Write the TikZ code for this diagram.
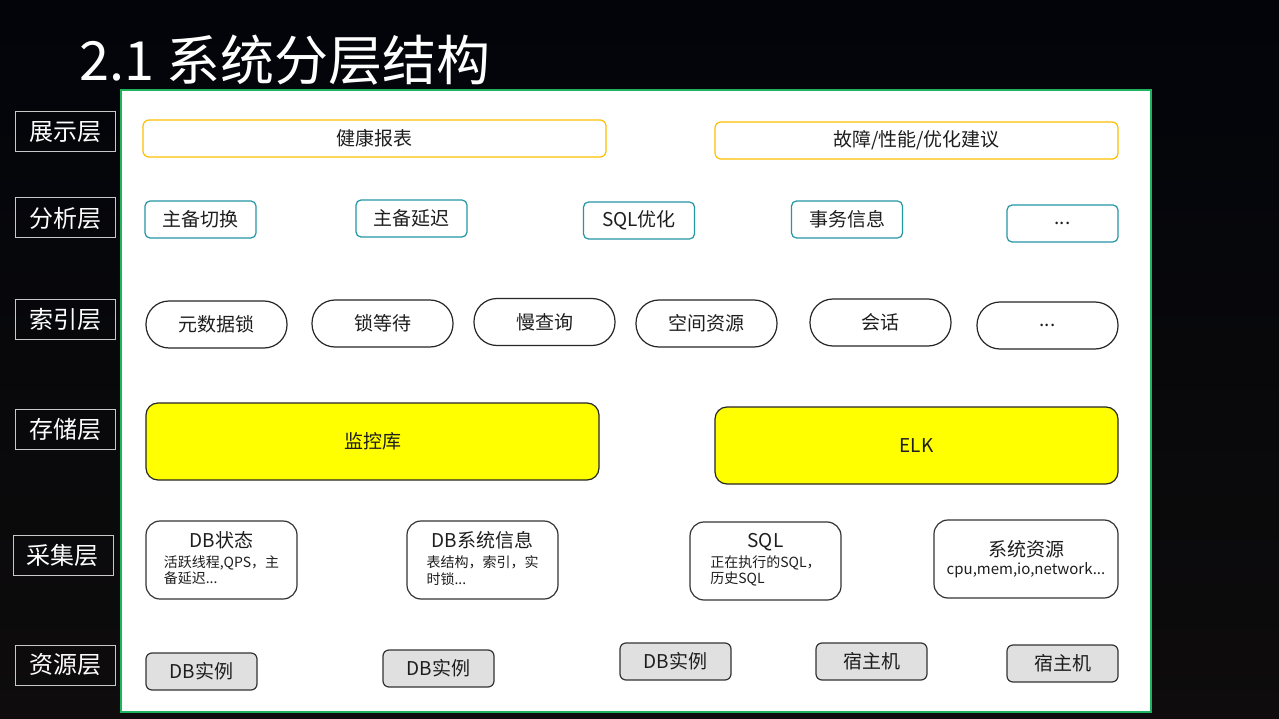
\documentclass[tikz,border=0pt]{standalone}
\usepackage{fontspec}
\setmainfont{Noto Sans CJK SC}
\usepackage{tikz}
\usetikzlibrary{positioning,calc}

\definecolor{bgtop}{RGB}{2,4,10}
\definecolor{bgmid}{RGB}{8,16,34}
\definecolor{bgbot}{RGB}{14,12,12}
\definecolor{panelgreen}{RGB}{30,180,95}
\definecolor{labelgray}{RGB}{200,200,200}
\definecolor{showyellow}{RGB}{255,192,0}
\definecolor{anateal}{RGB}{35,150,165}
\definecolor{storeyellow}{RGB}{255,255,0}
\definecolor{resgray}{RGB}{224,224,224}
\definecolor{boxtext}{RGB}{30,30,30}

\newcommand{\detail}[1]{{\fontsize{14}{16}\selectfont\begin{tabular}[t]{@{}l@{}}#1\end{tabular}}}

\tikzset{
  layerlabel/.style={draw=labelgray, line width=1pt, text=white, minimum width=100pt,
    minimum height=40pt, inner sep=0pt, font=\fontsize{24}{26}\selectfont},
  showbox/.style={draw=showyellow, line width=1.2pt, rounded corners=6pt, minimum height=37pt,
    inner sep=0pt, text=boxtext, font=\fontsize{19}{22}\selectfont},
  anabox/.style={draw=anateal, line width=1.2pt, rounded corners=5pt, minimum width=111pt,
    minimum height=37pt, inner sep=0pt, text=boxtext, font=\fontsize{19}{22}\selectfont},
  idxpill/.style={draw=black!85, line width=1.2pt, rounded corners=23pt, minimum width=141pt,
    minimum height=47pt, inner sep=0pt, text=boxtext, font=\fontsize{19}{22}\selectfont},
  storebox/.style={draw=black!85, fill=storeyellow, line width=1.2pt, rounded corners=12pt,
    minimum height=77pt, inner sep=0pt, text=boxtext, font=\fontsize{19}{22}\selectfont},
  collectbox/.style={draw=black!80, line width=1.2pt, rounded corners=14pt, minimum width=151pt,
    minimum height=78pt, inner sep=0pt, align=center, text=boxtext, font=\fontsize{19}{21}\selectfont},
  resbox/.style={draw=black!80, fill=resgray, line width=1.2pt, rounded corners=6pt,
    minimum width=111pt, minimum height=37pt, inner sep=0pt, text=boxtext,
    font=\fontsize{19}{22}\selectfont},
}

\begin{document}
\begin{tikzpicture}[x=1pt, y=-1pt]
  \useasboundingbox (0,0) rectangle (1279,719);
  \shade[top color=bgtop, middle color=bgmid, bottom color=bgbot] (0,0) rectangle (1279,719);

  \node[anchor=west, inner sep=0pt, text=white, font=\fontsize{54}{60}\selectfont] (title)
    at (79,60) {2.1 系统分层结构};

  % white panel
  \draw[panelgreen, fill=white, line width=1.2pt] (121,90) rectangle (1151,712);

  % layer names
  \node[layerlabel] (lshow) at (65,132) {展示层};
  \node[layerlabel] (lana) at (65,218) {分析层};
  \node[layerlabel] (lidx) at (65,319) {索引层};
  \node[layerlabel] (lstore) at (65,429) {存储层};
  \node[layerlabel] (lcollect) at (63,555) {采集层};
  \node[layerlabel] (lres) at (65,665) {资源层};

  % 展示层
  \node[showbox, minimum width=463pt] (health) at (374.5,138.5) {健康报表};
  \node[showbox, minimum width=403pt] (advice) at (916.5,140.5) {故障/性能/优化建议};

  % 分析层
  \node[anabox] (switch) at (200.5,219.5) {主备切换};
  \node[anabox] (delay) at (411.5,218.5) {主备延迟};
  \node[anabox] (sqlopt) at (639,220.5) {SQL优化};
  \node[anabox] (trx) at (847,219.5) {事务信息};
  \node[anabox] (anamore) at (1062.5,223.5) {...};

  % 索引层
  \node[idxpill] (mdl) at (216.5,324.5) {元数据锁};
  \node[idxpill] (lockwait) at (382.5,323.5) {锁等待};
  \node[idxpill] (slow) at (544.5,322) {慢查询};
  \node[idxpill] (space) at (706.5,323.5) {空间资源};
  \node[idxpill] (session) at (880.5,322.5) {会话};
  \node[idxpill] (idxmore) at (1047.5,325.5) {...};

  % 存储层
  \node[storebox, minimum width=453pt] (monitordb) at (372.5,441.5) {监控库};
  \node[storebox, minimum width=403pt] (elk) at (916.5,445.5) {ELK};

  % 采集层
  \node[collectbox] (dbstate) at (221.5,560) {DB状态\\[-1pt]\detail{活跃线程,QPS，主\\备延迟...}};
  \node[collectbox] (dbsys) at (482.5,560) {DB系统信息\\[-1pt]\detail{表结构，索引，实\\时锁...}};
  \node[collectbox] (sql) at (765.5,561) {SQL\\[-1pt]\detail{正在执行的SQL，\\历史SQL}};
  \node[collectbox, minimum width=184pt] (sysres) at (1026,559)
    {系统资源\\[-3pt]{\fontsize{15}{17}\selectfont cpu,mem,io,network...}};

  % 资源层
  \node[resbox] (inst1) at (201.5,671.5) {DB实例};
  \node[resbox] (inst2) at (438.5,668.5) {DB实例};
  \node[resbox] (inst3) at (675.5,661.5) {DB实例};
  \node[resbox] (host1) at (871.5,661.5) {宿主机};
  \node[resbox] (host2) at (1062.5,663.5) {宿主机};
\end{tikzpicture}
\end{document}
